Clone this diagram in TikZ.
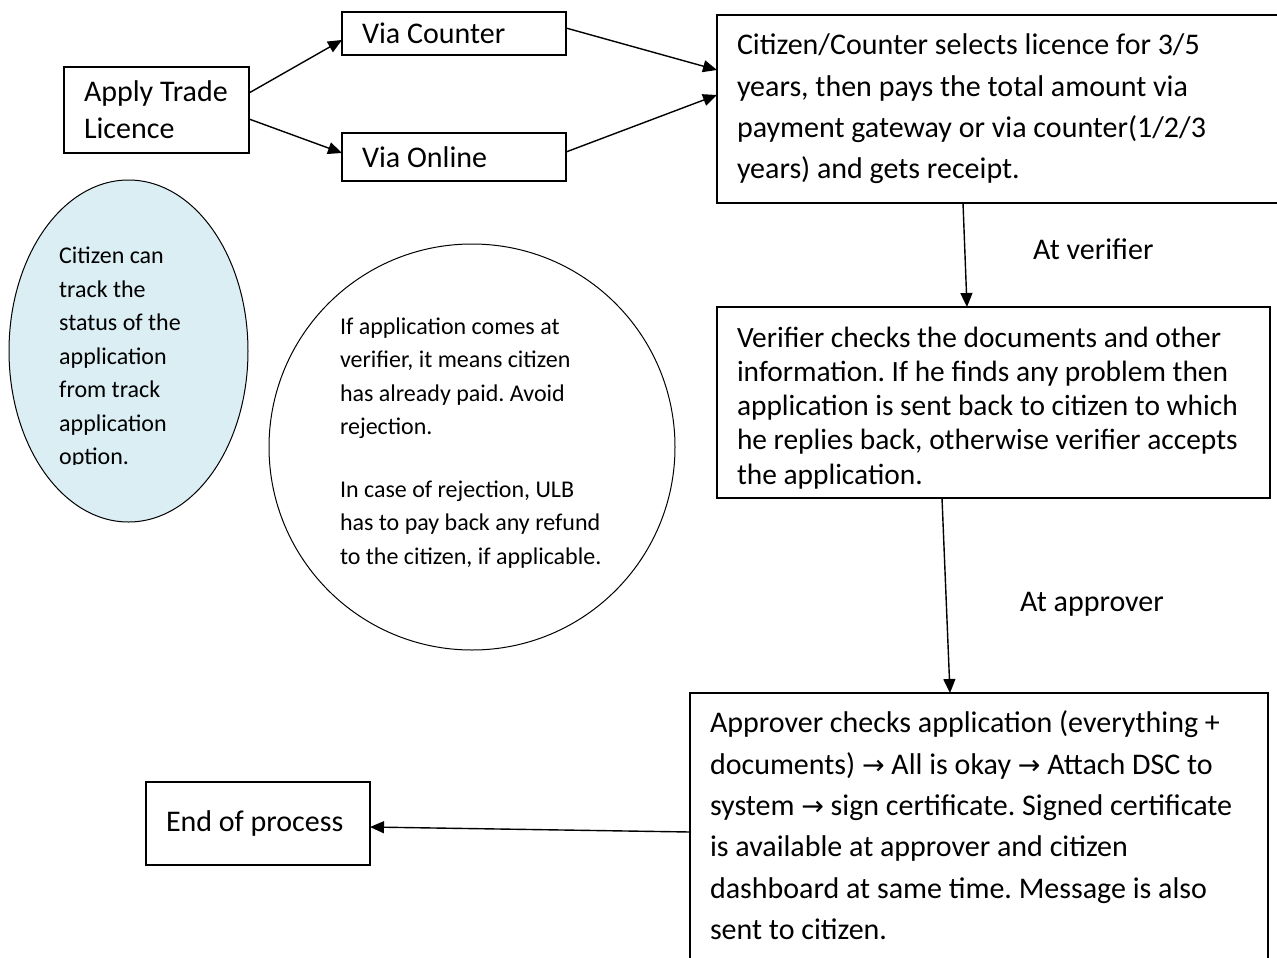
\documentclass[tikz,border=0pt]{standalone}
\usepackage{fontspec}
\setmainfont{Carlito}
\newfontfamily\arrowfont{DejaVu Sans}[Scale=0.9]
\usetikzlibrary{arrows.meta,shapes.geometric}
\definecolor{trackblue}{HTML}{DAEEF3}
\newcommand\bodyfont{\fontsize{30pt}{41.4pt}\selectfont}
\newcommand\notefont{\fontsize{24pt}{33.5pt}\selectfont}
\newcommand\thento{{\arrowfont →}}
\frenchspacing

\begin{document}
\begin{tikzpicture}[
  x=1pt, y=-1pt,
  >={Triangle[length=14pt,width=12pt]},
  proc/.style={draw, line width=1.3pt, anchor=north west, inner xsep=20pt,
              inner ysep=0pt, outer sep=0pt, align=flush left, font=\bodyfont},
  bubble/.style={draw, line width=1pt, inner sep=0pt, align=flush left,
              font=\notefont},
  arr/.style={->, line width=1.4pt},
  lbl/.style={anchor=base west, inner sep=0pt, font=\bodyfont},
]
\useasboundingbox (0,0) rectangle (1277,958);

\node[proc, text width=145pt, minimum height=86pt,
      font=\fontsize{30pt}{36.7pt}\selectfont] (apply) at (64,67) {Apply~Trade\\Licence};
\node[proc, text width=184pt, minimum height=43pt] (counter) at (342,12) {Via Counter};
\node[proc, text width=184pt, minimum height=48pt] (online) at (342,133) {Via Online};

\node[proc, text width=533pt, minimum height=188pt] (pay) at (717,15)
  {Citizen/Counter selects licence for 3/5\\years, then pays the total amount via\\payment gateway or via counter(1/2/3\\years) and gets receipt.};

\node[proc, text width=513pt, minimum height=191pt, text height=31pt,
      font=\fontsize{29.4pt}{34.3pt}\selectfont] (verify) at (717,307)
  {Verifier checks the documents and other\\information. If he finds any problem then\\application is sent back to citizen to which\\he replies back, otherwise verifier accepts\\the application.};

\node[proc, text width=538pt, minimum height=267pt, text height=19.6pt] (approve) at (690,693)
  {Approver checks application (everything +\\documents) \thento{} All is okay \thento{} Attach DSC to\\system \thento{} sign certificate. Signed certificate\\is available at approver and citizen\\dashboard at same time. Message is also\\sent to citizen.};

\node[proc, text width=184pt, minimum height=83pt] (finish) at (146,782) {End of process};

\node[bubble, ellipse, fill=trackblue, minimum width=239pt, minimum height=342pt] (track) at (128.5,351) {};
\begin{scope}
  \clip (0,170) rectangle (260,464);
  \node[anchor=north west, inner sep=0pt, text width=140pt, text height=18pt,
        align=flush left, font=\notefont] (tracktext) at (59,245.6)
    {Citizen can\\track the\\status of the\\application\\from track\\application\\option.};
\end{scope}

\node[bubble, circle, minimum size=406pt, text width=264pt, text height=8.4pt] (note) at (472,447)
  {If application comes at\\verifier, it means citizen\\has already paid. Avoid\\rejection.\\[28.7pt]In case of rejection, ULB\\has to pay back any refund\\to the citizen, if applicable.};

\node[lbl] (atverify) at (1033,259) {At verifier};
\node[lbl] (atapprove) at (1020,611) {At approver};

\draw[arr] ([yshift=17pt]apply.east) -- ([yshift=-6.5pt]counter.west);
\draw[arr] ([yshift=-9pt]apply.east) -- ([yshift=4pt]online.west);
\draw[arr] ([yshift=5.5pt]counter.east) -- ([yshift=39pt]pay.west);
\draw[arr] ([yshift=5pt]online.east) -- ([yshift=14pt]pay.west);
\draw[arr] ([xshift=246pt]pay.south west) -- ([xshift=250pt]verify.north west);
\draw[arr] ([xshift=225pt]verify.south west) -- ([xshift=260pt]approve.north west);
\draw[arr] ([yshift=-5.5pt]approve.west) -- ([yshift=-3.5pt]finish.east);

\end{tikzpicture}
\end{document}
